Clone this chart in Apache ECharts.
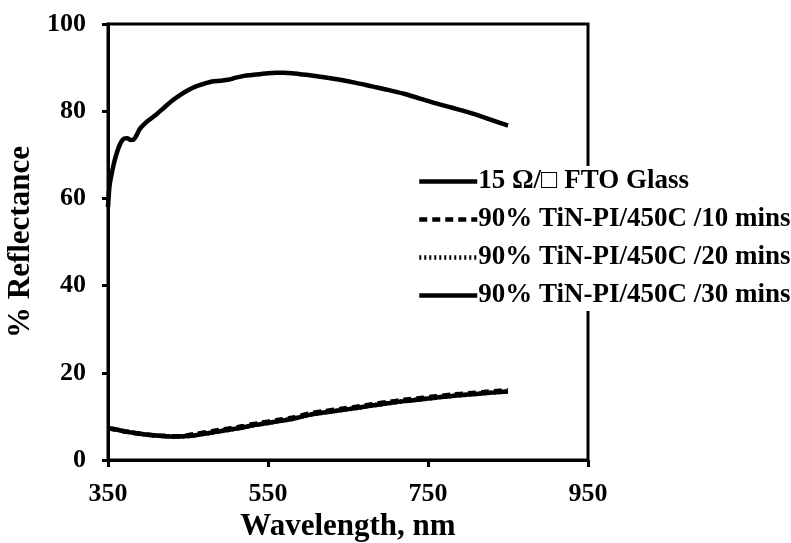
<!DOCTYPE html>
<html>
<head>
<meta charset="utf-8">
<script src="https://cdn.jsdelivr.net/npm/echarts@6/dist/echarts.min.js"></script>
<style>
  html, body { margin: 0; padding: 0; background: #fff; }
  #chart { width: 791px; height: 543px; }
</style>
</head>
<body>
<div id="chart"></div>
<script>
// Reflectance spectra: bare FTO glass vs. TiN-PI coatings cured at 450C
const seriesNames = [
  '15 Ω/□ FTO Glass',
  '90% TiN-PI/450C /10 mins',
  '90% TiN-PI/450C /20 mins',
  '90% TiN-PI/450C /30 mins'
];

const ftoWavelength = [350, 352, 355, 358, 362, 366, 370, 374, 378, 382, 386, 390, 395, 400,
  410, 420, 430, 440, 450, 460, 470, 480, 490, 500, 510, 520, 530, 540, 550, 560, 570, 580,
  590, 600, 620, 640, 660, 680, 700, 720, 740, 760, 780, 800, 820, 840, 850];
const ftoReflectance = [58.0, 63.0, 66.0, 68.5, 71.0, 72.8, 73.7, 73.8, 73.4, 73.5, 74.6, 76.0,
  77.0, 77.8, 79.2, 80.8, 82.4, 83.7, 84.8, 85.7, 86.3, 86.8, 87.0, 87.2, 87.7, 88.1, 88.3,
  88.5, 88.7, 88.8, 88.8, 88.7, 88.5, 88.3, 87.8, 87.2, 86.5, 85.7, 84.9, 84.0, 82.9, 81.8,
  80.8, 79.8, 78.6, 77.3, 76.7];

const tinWavelength = [350, 360, 370, 380, 390, 400, 410, 420, 430, 440, 450, 460, 470, 480,
  490, 500, 510, 520, 530, 540, 550, 560, 580, 600, 620, 640, 660, 680, 700, 720, 740, 760,
  780, 800, 820, 840, 850];
const tin10min = [7.3, 7.0, 6.6, 6.3, 6.0, 5.8, 5.6, 5.5, 5.4, 5.5, 5.7, 6.0, 6.3, 6.6, 6.9,
  7.2, 7.5, 7.8, 8.2, 8.5, 8.8, 9.1, 9.7, 10.6, 11.2, 11.7, 12.2, 12.8, 13.3, 13.8, 14.2,
  14.6, 15.0, 15.3, 15.6, 15.9, 16.0];
const tin20min = [7.3, 7.0, 6.6, 6.3, 6.0, 5.8, 5.6, 5.5, 5.4, 5.4, 5.5, 5.7, 6.0, 6.3, 6.6,
  6.9, 7.2, 7.5, 7.9, 8.2, 8.5, 8.8, 9.4, 10.3, 10.9, 11.4, 11.9, 12.5, 13.0, 13.5, 13.9,
  14.3, 14.7, 15.0, 15.3, 15.6, 15.7];
const tin30min = [7.3, 7.0, 6.6, 6.3, 6.0, 5.8, 5.6, 5.5, 5.4, 5.4, 5.5, 5.7, 6.0, 6.3, 6.6,
  6.9, 7.2, 7.5, 7.9, 8.2, 8.5, 8.8, 9.4, 10.3, 10.9, 11.4, 11.9, 12.5, 13.0, 13.5, 13.9,
  14.3, 14.7, 15.0, 15.3, 15.6, 15.7];

const xTickValues = [350, 550, 750, 950];

const pairs = (xs, ys) => xs.map((x, i) => [x, ys[i]]);

const FONT = '"Liberation Serif", "Times New Roman", serif';

const chart = echarts.init(document.getElementById('chart'), null, { renderer: 'canvas' });

const baseLine = (name, data, type) => ({
  name,
  type: 'line',
  data,
  symbol: 'none',
  smooth: 0.3,
  lineStyle: { color: '#000', width: 4.5, type },
  itemStyle: { color: '#000' },
  z: 3
});

chart.setOption({
  backgroundColor: '#fff',
  animation: false,
  grid: {
    left: 108, right: 203, top: 24, bottom: 83,
    outerBoundsMode: 'none',
    containLabel: false,
    show: true, borderColor: '#000', borderWidth: 3
  },
  legend: {
    orient: 'vertical',
    left: 413,
    top: 166,
    itemWidth: 58,
    itemHeight: 14,
    itemGap: 11,
    backgroundColor: '#fff',
    padding: [2, 0, 2, 4],
    data: seriesNames,
    textStyle: { fontFamily: FONT, fontWeight: 'bold', fontSize: 27, color: '#000', padding: [0, 0, 0, -4] },
    lineStyle: { width: 4.5 },
    // line-only legend keys (no marker dot)
    itemStyle: { opacity: 0 }
  },
  xAxis: {
    type: 'value',
    min: 350,
    max: 950,
    name: 'Wavelength, nm',
    nameLocation: 'middle',
    nameGap: 48,
    nameTextStyle: { fontFamily: FONT, fontWeight: 'bold', fontSize: 31, color: '#000' },
    axisLine: { lineStyle: { color: '#000', width: 3 } },
    axisTick: { show: true, length: 7, lineStyle: { color: '#000', width: 3 }, customValues: xTickValues },
    axisLabel: { fontFamily: FONT, fontWeight: 'bold', fontSize: 26, color: '#000', margin: 21, customValues: xTickValues },
    splitLine: { show: false }
  },
  yAxis: {
    type: 'value',
    min: 0,
    max: 100,
    interval: 20,
    name: '% Reflectance',
    nameLocation: 'middle',
    nameGap: 60,
    nameTextStyle: { fontFamily: FONT, fontWeight: 'bold', fontSize: 31, color: '#000' },
    axisLine: { lineStyle: { color: '#000', width: 3 } },
    axisTick: { show: true, length: 6, lineStyle: { color: '#000', width: 3 } },
    axisLabel: { fontFamily: FONT, fontWeight: 'bold', fontSize: 26, color: '#000', margin: 22 },
    splitLine: { show: false }
  },
  series: [
    baseLine(seriesNames[0], pairs(ftoWavelength, ftoReflectance), 'solid'),
    baseLine(seriesNames[3], pairs(tinWavelength, tin30min), 'solid'),
    baseLine(seriesNames[2], pairs(tinWavelength, tin20min), [2, 3]),
    baseLine(seriesNames[1], pairs(tinWavelength, tin10min), [8, 5])
  ]
});
</script>
</body>
</html>
